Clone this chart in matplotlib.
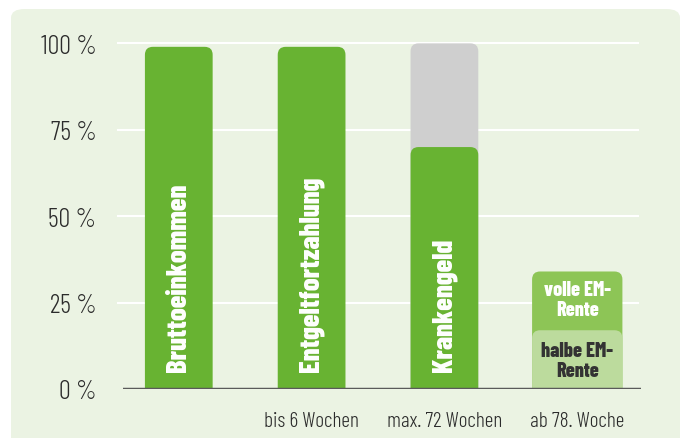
import matplotlib
matplotlib.use("Agg")
import matplotlib.pyplot as plt
from matplotlib.patches import FancyBboxPatch

# values in percent of gross income
categories = ["", "bis 6 Wochen", "max. 72 Wochen", "ab 78. Woche"]
bar_labels = ["Bruttoeinkommen", "Entgeltfortzahlung", "Krankengeld"]
green_values = [99, 99, 70]
gray_values = [0, 0, 100]
halbe_em = 17
volle_em = 34
y_ticks = [0, 25, 50, 75, 100]
y_ticklabels = ["0\u2009%", "25\u2009%", "50\u2009%", "75\u2009%", "100\u2009%"]

GREEN = "#68b332"
GRAY = "#cfcfcf"
LIGHT1 = "#8dc556"
LIGHT2 = "#bcdb9d"
BG = "#ebf3e3"
TXT = "#2b2b2b"

plt.rcParams["font.family"] = ["Barlow Condensed", "DejaVu Sans"]

fig = plt.figure(figsize=(6.83, 4.39), dpi=100)
fig.patch.set_facecolor("white")

# rounded background panel
panel = FancyBboxPatch((11 / 683, -0.05), 669 / 683, 1 - 10 / 439 + 0.05,
                       boxstyle="round,pad=0,rounding_size=0.02",
                       transform=fig.transFigure, facecolor=BG, edgecolor="none", zorder=-10)
fig.patches.append(panel)

ax = fig.add_axes([123 / 683, 49 / 439, 518 / 683, 356 / 439])
ax.set_facecolor("none")
ax.set_zorder(1)
ax.set_xlim(-0.42, 3.48)
ax.set_ylim(0, 103)

# px per data unit in x ~132.7, in y ~3.46 -> aspect for rounded corners
ASPECT = 132.7 / 3.46


def rounded_bar(x, height, width, color):
    # draw a bar through ax.bar, then swap it for a rounded patch; bottom corners are clipped off
    rect = ax.bar(x, height, width, color=color)[0]
    rect.remove()
    p = FancyBboxPatch((rect.get_x(), -4), rect.get_width(), rect.get_height() + 4,
                       boxstyle="round,pad=0,rounding_size=0.06",
                       mutation_aspect=ASPECT,
                       facecolor=color, edgecolor="none", zorder=2)
    ax.add_patch(p)


for i in range(3):
    if gray_values[i] > green_values[i]:
        rounded_bar(i, gray_values[i], 0.51, GRAY)
    rounded_bar(i, green_values[i], 0.51, GREEN)
    ax.text(i, 5.2, bar_labels[i], rotation=90, ha="center", va="bottom", color="white",
            fontsize=20.5, fontweight=800, zorder=3)

rounded_bar(3, volle_em, 0.68, LIGHT1)
rounded_bar(3, halbe_em, 0.68, LIGHT2)
ax.text(3, (volle_em + halbe_em) / 2 + 0.3, "volle EM-\nRente", ha="center", va="center",
        color="white", fontsize=14.5, fontweight=800, linespacing=1.05, zorder=3)
ax.text(3, halbe_em / 2 - 0.3, "halbe EM-\nRente", ha="center", va="center",
        color="#333333", fontsize=14.5, fontweight=800, linespacing=1.05, zorder=3)

# gridlines
for t in y_ticks[1:]:
    ax.plot([-0.455, 3.46], [t, t], color="white", lw=1.5, zorder=1, clip_on=False)
ax.axhline(0, color="#5a5a5a", lw=2.5, zorder=4)

ax.set_yticks(y_ticks)
ax.set_yticklabels(y_ticklabels, fontsize=19, color=TXT, fontweight=300)
ax.set_xticks(range(4))
ax.set_xticklabels(categories, fontsize=15.5, color=TXT, fontweight=300)
ax.tick_params(length=0)
ax.tick_params(axis="y", pad=19)
ax.tick_params(axis="x", pad=16)
for s in ax.spines.values():
    s.set_visible(False)

fig.savefig("out.png", dpi=100)
